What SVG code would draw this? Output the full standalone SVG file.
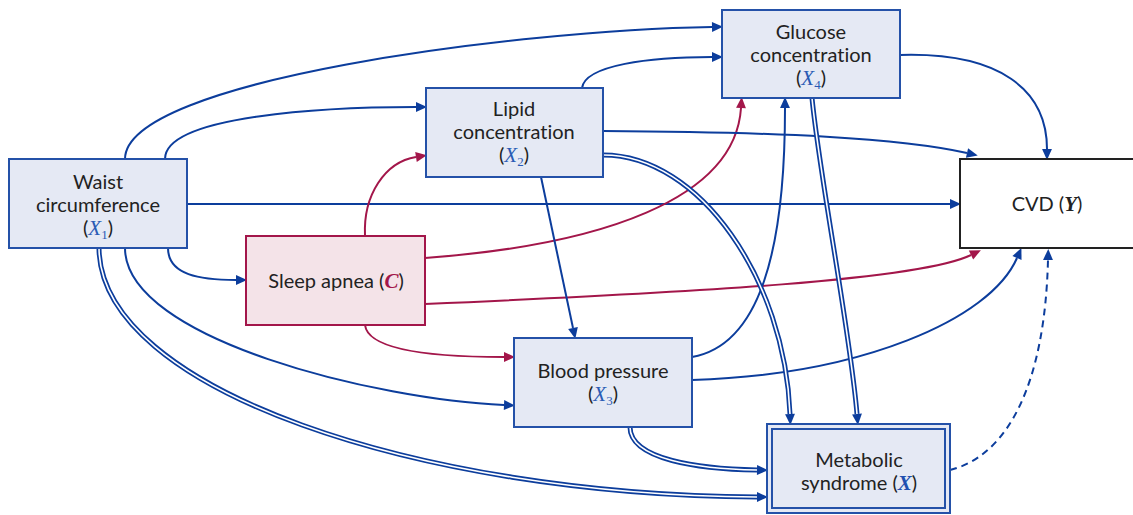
<svg xmlns="http://www.w3.org/2000/svg" width="1133" height="515" viewBox="0 0 1133 515">
<style>
.box{fill:#e5e9f4;stroke:#2451a8;stroke-width:2}
.red{fill:#f4e3e8;stroke:#a3164a;stroke-width:2}
.t{font-family:Lato,"Liberation Sans",sans-serif;font-size:20px;fill:#222;text-anchor:middle;font-variant-ligatures:none}
.m{font-family:"Liberation Serif","DejaVu Serif",serif;font-style:italic;fill:#2a5bb5;font-size:21px}
.sub{font-family:"Liberation Serif","DejaVu Serif",serif;font-size:13px;fill:#2a5bb5}
.e{fill:none;stroke:#0c3d9c;stroke-width:2}
.er{fill:none;stroke:#a3164a;stroke-width:2}
.dbl{fill:none;stroke:#0c3d9c;stroke-width:5}
.dblw{fill:none;stroke:#fff;stroke-width:1.6}
</style>
<defs>
<marker id="ab" markerUnits="userSpaceOnUse" viewBox="0 0 10 10" refX="0" refY="5" markerWidth="11" markerHeight="11" orient="auto" overflow="visible"><path d="M0,0.5 L10,5 L0,9.5 z" fill="#0c3d9c"/></marker>
<marker id="ar" markerUnits="userSpaceOnUse" viewBox="0 0 10 10" refX="0" refY="5" markerWidth="11" markerHeight="11" orient="auto" overflow="visible"><path d="M0,0.5 L10,5 L0,9.5 z" fill="#a3164a"/></marker>
</defs>
<rect width="1133" height="515" fill="#fff"/>
<g id="connectors">
<path class="e" d="M125,159 C125,80 520,30 712,27" marker-end="url(#ab)"/>
<path class="e" d="M582,88 C585,65 650,57 712,57" marker-end="url(#ab)"/>
<path class="e" d="M165,159 C165,115 330,107 416,107" marker-end="url(#ab)"/>
<path class="e" d="M187,204 L950,204" marker-end="url(#ab)"/>
<path class="e" d="M168,248 C168,275 200,280 236,280" marker-end="url(#ab)"/>
<path class="e" d="M125,248 C125,340 380,400 504,405" marker-end="url(#ab)"/>
<path class="er" d="M365,236 C363,195 385,162 416,157" marker-end="url(#ar)"/>
<path class="er" d="M425,258 C600,245 735,200 741,108" marker-end="url(#ar)"/>
<path class="er" d="M425,304 C700,292 920,280 971,255" marker-end="url(#ar)"/>
<path class="er" d="M365,325 C368,350 430,357 504,357" marker-end="url(#ar)"/>
<path class="e" d="M603,131 C780,132 900,138 967,153" marker-end="url(#ab)"/>
<path class="e" d="M541,177 L573,328" marker-end="url(#ab)"/>
<path class="e" d="M900,55 C1000,52 1047,90 1047,149" marker-end="url(#ab)"/>
<path class="e" d="M692,357 C760,345 785,250 785,108" marker-end="url(#ab)"/>
<path class="e" d="M692,380 C860,375 990,320 1017,258" marker-end="url(#ab)"/>
<path class="e" d="M950,470 C1010,455 1045,380 1048,260" stroke-dasharray="7,5" marker-end="url(#ab)"/>
<path class="dbl" d="M99,248 C100,390 420,495 757,497" marker-end="url(#ab)"/>
<path class="dblw" d="M99,248 C100,390 420,495 757,497"/>
<path class="dbl" d="M603,155 C700,155 785,280 790,414" marker-end="url(#ab)"/>
<path class="dblw" d="M603,155 C700,155 785,280 790,414"/>
<path class="dbl" d="M812,98 C820,180 850,330 857,414" marker-end="url(#ab)"/>
<path class="dblw" d="M812,98 C820,180 850,330 857,414"/>
<path class="dbl" d="M630,427 C630,460 700,469 757,470" marker-end="url(#ab)"/>
<path class="dblw" d="M630,427 C630,460 700,469 757,470"/>
</g>
<g id="waist">
<rect class="box" x="9" y="159" width="178" height="89"/>
<text class="t" x="98" y="189">Waist</text>
<text class="t" x="98" y="212">circumference</text>
<text class="t" x="98" y="235">(<tspan class="m">X</tspan><tspan class="sub" dy="4">1</tspan><tspan dy="-4">)</tspan></text>
</g>
<g id="lipid">
<rect class="box" x="426" y="88" width="177" height="89"/>
<text class="t" x="514" y="116">Lipid</text>
<text class="t" x="514" y="139">concentration</text>
<text class="t" x="514" y="162">(<tspan class="m">X</tspan><tspan class="sub" dy="4">2</tspan><tspan dy="-4">)</tspan></text>
</g>
<g id="glucose">
<rect class="box" x="722" y="10" width="178" height="88"/>
<text class="t" x="811" y="39">Glucose</text>
<text class="t" x="811" y="62">concentration</text>
<text class="t" x="811" y="85">(<tspan class="m">X</tspan><tspan class="sub" dy="4">4</tspan><tspan dy="-4">)</tspan></text>
</g>
<g id="sleep">
<rect class="red" x="246" y="236" width="179" height="89"/>
<text class="t" x="336" y="288">Sleep apnea (<tspan class="m" style="fill:#a3164a;font-weight:bold">C</tspan>)</text>
</g>
<g id="bp">
<rect class="box" x="514" y="338" width="178" height="89"/>
<text class="t" x="603" y="378">Blood pressure</text>
<text class="t" x="603" y="401">(<tspan class="m">X</tspan><tspan class="sub" dy="4">3</tspan><tspan dy="-4">)</tspan></text>
</g>
<g id="metabolic">
<rect x="767" y="424" width="183" height="89" fill="#e5e9f4" stroke="#2451a8" stroke-width="2"/>
<rect x="772" y="429" width="173" height="79" fill="none" stroke="#2451a8" stroke-width="2"/>
<text class="t" x="859" y="467">Metabolic</text>
<text class="t" x="859" y="490">syndrome (<tspan class="m" style="font-weight:bold;fill:#1f4fb0">X</tspan>)</text>
</g>
<g id="cvd">
<rect x="960" y="159" width="185" height="89" fill="#fff" stroke="#222" stroke-width="2"/>
<text class="t" x="1047" y="211">CVD (<tspan class="m" style="font-weight:bold;fill:#222">Y</tspan>)</text>
</g>
</svg>
